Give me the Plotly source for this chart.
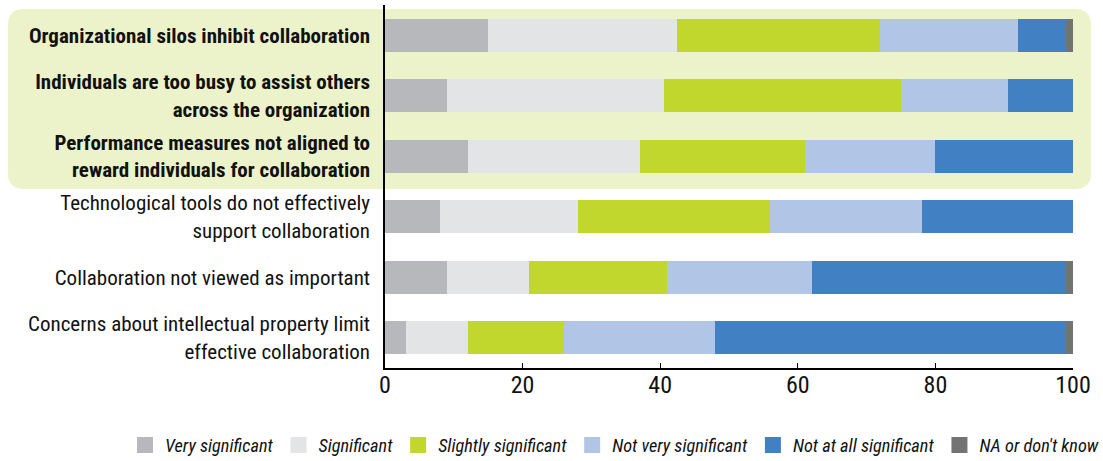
import plotly.graph_objects as go

categories = [
    "<b>Organizational silos inhibit collaboration</b>",
    "<b>Individuals are too busy to assist others</b><br><b>across the organization</b>",
    "<b>Performance measures not aligned to</b><br><b>reward individuals for collaboration</b>",
    "Technological tools do not effectively<br>support collaboration",
    "Collaboration not viewed as important",
    "Concerns about intellectual property limit<br>effective collaboration",
]

very_significant = [15, 9, 12, 8, 9, 3]
significant = [27.5, 31.5, 25, 20, 12, 9]
slightly_significant = [29.5, 34.5, 24, 28, 20, 14]
not_very_significant = [20, 15.5, 19, 22, 21, 22]
not_at_all_significant = [7, 9.5, 20, 22, 37, 51]
na_dont_know = [1, 0, 0, 0, 1, 1]

series = [
    ("Very significant", very_significant, "#B7B8BC"),
    ("Significant", significant, "#E3E4E6"),
    ("Slightly significant", slightly_significant, "#C1D72E"),
    ("Not very significant", not_very_significant, "#B1C5E6"),
    ("Not at all significant", not_at_all_significant, "#4080C3"),
    ("NA or don't know", na_dont_know, "#737373"),
]

FONT = "Liberation Sans Narrow, Arial Narrow, Roboto Condensed, sans-serif"

fig = go.Figure()
for name, vals, color in series:
    fig.add_trace(go.Bar(
        y=categories, x=vals, name=name, orientation="h",
        marker=dict(color=color, line=dict(width=0)),
        hoverinfo="x+name", legendgroup=name, showlegend=False,
    ))
# legend entries with larger square swatches
for name, vals, color in series:
    fig.add_trace(go.Scatter(
        x=[None], y=[None], mode="markers", name=name, legendgroup=name,
        marker=dict(symbol="square", size=16, color=color, line=dict(width=0)),
        showlegend=True, hoverinfo="skip",
    ))

# plot area geometry (pixels)
L, R, T, B = 385, 30, 5, 93
W, H = 1103, 461
pw, ph = W - L - R, H - T - B

def px_to_paper(px, py):
    return (px - L) / pw, (H - B - py) / ph

# rounded highlight box
bx0, by0, bx1, by1, r = 8, 9, 1091, 189, 16
x0, y0 = px_to_paper(bx0, by1)
x1, y1 = px_to_paper(bx1, by0)
rx, ry = r / pw, r / ph
path = (f"M{x0+rx},{y0} L{x1-rx},{y0} Q{x1},{y0} {x1},{y0+ry} "
        f"L{x1},{y1-ry} Q{x1},{y1} {x1-rx},{y1} L{x0+rx},{y1} "
        f"Q{x0},{y1} {x0},{y1-ry} L{x0},{y0+ry} Q{x0},{y0} {x0+rx},{y0} Z")
fig.add_shape(type="path", path=path, xref="paper", yref="paper",
              fillcolor="#ECF3CB", line=dict(width=0), layer="below")

leg_x, leg_y = px_to_paper(125, 445)

fig.update_layout(
    barmode="stack",
    bargap=0.45,
    width=W, height=H,
    margin=dict(l=L, r=R, t=T, b=B, pad=0, autoexpand=False),
    plot_bgcolor="rgba(0,0,0,0)",
    paper_bgcolor="white",
    font=dict(family=FONT, color="#111111"),
    showlegend=True,
    legend=dict(
        orientation="h", xref="paper", yref="paper",
        x=leg_x, y=leg_y, xanchor="left", yanchor="middle",
        font=dict(size=18.3, family=FONT, style="italic"),
        traceorder="normal", itemclick=False, itemdoubleclick=False,
        bgcolor="rgba(0,0,0,0)",
    ),
    xaxis=dict(
        range=[0, 100], tickvals=[0, 20, 40, 60, 80, 100],
        showline=True, linecolor="black", linewidth=1.5,
        ticks="inside", ticklen=5, tickcolor="black",
        showgrid=False, zeroline=False,
        ticklabelstandoff=-6,
        tickfont=dict(size=24, family=FONT, color="#111111"),
    ),
    yaxis=dict(
        autorange="reversed",
        showline=True, linecolor="black", linewidth=1.5,
        ticks="", showgrid=False,
        ticklabelstandoff=9,
        tickfont=dict(size=21, family=FONT, color="#111111"),
    ),
)

fig.write_html("out.html", config={"displayModeBar": False},
               post_script="document.body.style.margin='0';")
